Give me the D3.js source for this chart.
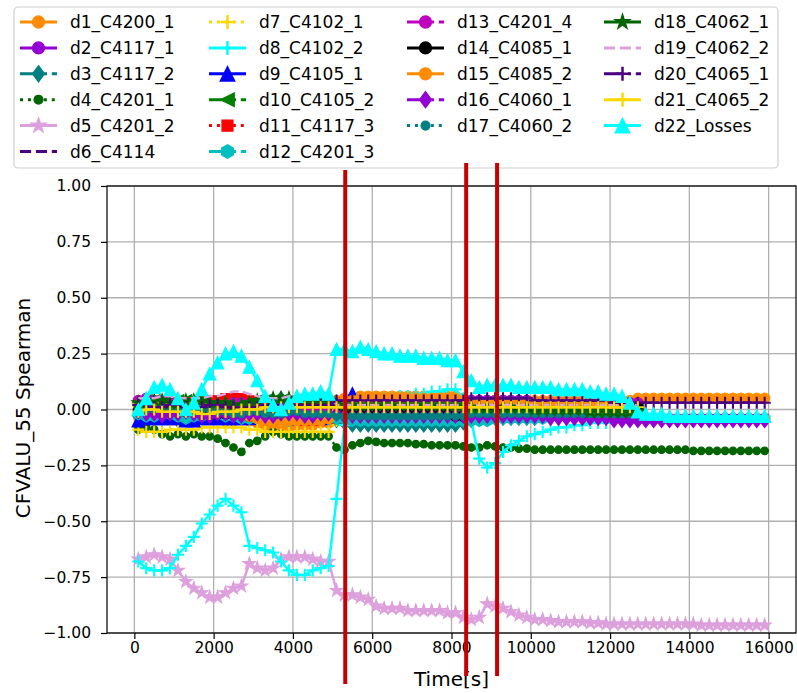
<!DOCTYPE html>
<html>
<head>
<meta charset="utf-8">
<script src="https://cdn.jsdelivr.net/npm/d3@7"></script>
<style>
  body { margin: 0; background: #fff; }
  text { font-family: "DejaVu Sans", sans-serif; fill: #000; }
</style>
</head>
<body>
<div id="chart"></div>
<script>
// sample times (s)
var times = [100,300,500,700,900,1100,1300,1500,1700,1900,2100,2300,2500,2700,2900,3100,3300,3500,3700,3900,
  4100,4300,4500,4700,4900,5100,5300,5500,5700,5900,6100,6300,6500,6700,6900,7100,7300,7500,7700,7900,
  8100,8300,8500,8700,8900,9100,9300,9500,9700,9900,10100,10300,10500,10700,10900,11100,11300,11500,11700,11900,
  12100,12300,12500,12700,12900,13100,13300,13500,13700,13900,14100,14300,14500,14700,14900,15100,15300,15500,15700,15900];

var xTicks = [0, 2000, 4000, 6000, 8000, 10000, 12000, 14000, 16000];
var yTicks = [-1, -0.75, -0.5, -0.25, 0, 0.25, 0.5, 0.75, 1];

// annotation lines (time positions)
var markTimes = [5320, 8370, 9150];

var d1_C4200_1 = [-0.03,-0.02,-0.02,-0.03,-0.03,-0.04,-0.04,-0.03,-0.03,-0.04,
  -0.04,-0.05,-0.05,-0.04,-0.05,-0.06,-0.07,-0.08,-0.08,-0.08,
  -0.07,-0.07,-0.07,-0.06,-0.06,0.04,0.05,0.05,0.06,0.06,
  0.06,0.06,0.06,0.06,0.06,0.06,0.06,0.06,0.06,0.06,
  0.06,0.05,0.04,0.04,0.04,0.04,0.04,0.04,0.04,0.04,
  0.04,0.04,0.04,0.04,0.04,0.04,0.04,0.04,0.04,0.04,
  0.04,0.04,0.04,0.05,0.05,0.05,0.05,0.05,0.05,0.05,
  0.05,0.05,0.05,0.05,0.05,0.05,0.05,0.05,0.05,0.05];
var d2_C4117_1 = [0.02,0.03,0.03,0.02,0.02,0.02,0.03,0.02,0.01,0.01,
  0.02,0.01,0.00,0.00,-0.01,-0.01,0.00,0.01,0.01,0.00,
  0.00,0.01,0.01,0.00,0.00,-0.03,-0.03,-0.04,-0.04,-0.04,
  -0.04,-0.04,-0.04,-0.04,-0.04,-0.04,-0.04,-0.04,-0.04,-0.03,
  -0.03,-0.03,0.04,0.04,0.04,0.04,0.04,0.04,0.04,0.04,
  0.03,0.03,0.03,0.03,0.03,0.03,0.03,0.02,0.02,0.02,
  0.01,0.00,-0.02,-0.04,-0.04,-0.04,-0.04,-0.04,-0.04,-0.04,
  -0.04,-0.04,-0.04,-0.04,-0.04,-0.04,-0.04,-0.04,-0.04,-0.04];
var d3_C4117_2 = [-0.03,-0.02,-0.03,-0.04,-0.04,-0.05,-0.05,-0.04,-0.04,-0.03,
  -0.03,-0.02,-0.01,0.00,0.02,0.03,0.04,0.04,0.05,0.04,
  0.04,0.04,0.04,0.04,0.03,-0.05,-0.06,-0.07,-0.07,-0.07,
  -0.07,-0.07,-0.07,-0.07,-0.07,-0.07,-0.07,-0.07,-0.07,-0.07,
  -0.07,-0.06,-0.05,-0.04,-0.04,-0.04,-0.04,-0.04,-0.04,-0.04,
  -0.04,-0.03,-0.03,-0.03,-0.03,-0.03,-0.03,-0.03,-0.02,-0.02,
  -0.02,-0.02,-0.02,-0.02];
var d4_C4201_1 = [-0.09,-0.08,-0.09,-0.11,-0.12,-0.11,-0.12,-0.11,-0.12,-0.12,
  -0.13,-0.15,-0.17,-0.19,-0.15,-0.14,-0.12,-0.10,-0.11,-0.12,
  -0.12,-0.12,-0.12,-0.12,-0.12,-0.17,-0.18,-0.16,-0.15,-0.14,
  -0.145,-0.15,-0.15,-0.15,-0.15,-0.155,-0.155,-0.16,-0.16,-0.16,
  -0.16,-0.165,-0.17,-0.17,-0.16,-0.165,-0.17,-0.17,-0.175,-0.175,
  -0.18,-0.18,-0.18,-0.18,-0.18,-0.18,-0.18,-0.18,-0.18,-0.18,
  -0.18,-0.18,-0.18,-0.18,-0.18,-0.18,-0.18,-0.18,-0.18,-0.18,
  -0.185,-0.185,-0.185,-0.185,-0.185,-0.185,-0.185,-0.185,-0.185,-0.185];
var d5_C4201_2 = [-0.67,-0.66,-0.65,-0.66,-0.67,-0.72,-0.77,-0.80,-0.82,-0.84,
  -0.84,-0.82,-0.80,-0.79,-0.69,-0.71,-0.72,-0.71,-0.67,-0.66,
  -0.66,-0.66,-0.67,-0.68,-0.68,-0.81,-0.83,-0.83,-0.84,-0.85,
  -0.88,-0.89,-0.89,-0.89,-0.90,-0.90,-0.90,-0.90,-0.90,-0.91,
  -0.91,-0.93,-0.94,-0.93,-0.87,-0.88,-0.89,-0.905,-0.92,-0.93,
  -0.94,-0.94,-0.945,-0.95,-0.95,-0.95,-0.95,-0.955,-0.955,-0.96,
  -0.96,-0.96,-0.96,-0.96,-0.96,-0.96,-0.96,-0.96,-0.96,-0.96,
  -0.96,-0.965,-0.965,-0.965,-0.965,-0.965,-0.965,-0.965,-0.965,-0.965];
var d6_C4114 = [0.01,0.02,0.02,0.01,0.01,0.01,0.02,0.02,0.01,0.01,
  0.01,0.00,0.00,0.01,0.01,0.01,0.00,0.00,0.00,0.00,
  0.01,0.01,0.01,0.01,0.01,0.04,0.04,0.04,0.04,0.04,
  0.04,0.04,0.04,0.04,0.04,0.04,0.04,0.04,0.04,0.04,
  0.04,0.04,0.04,0.04,0.04,0.04,0.04,0.04,0.04,0.04,
  0.04,0.04,0.03,0.03,0.03,0.03,0.03,0.03,0.03,0.03,
  0.03,0.03,0.03,0.03,0.03,0.03,0.03,0.03,0.03,0.03,
  0.03,0.03,0.03,0.03,0.03,0.03,0.03,0.03,0.03,0.03];
var d7_C4102_1 = [-0.09,-0.10,-0.10,-0.10,-0.09,-0.09,-0.09,-0.09,-0.08,-0.08,
  -0.08,-0.08,-0.08,-0.08,-0.09,-0.09,-0.10,-0.10,-0.10,-0.10,
  -0.10,-0.10,-0.10,-0.10,-0.10,-0.05,0.00,0.00,0.00,0.00,
  0.00,0.00,0.00,0.00,0.00,0.00,0.00,0.00,0.00,0.00,
  0.00,0.00,0.00,0.00,0.00,0.00,0.00,0.00,0.00,0.00,
  0.00,0.00,0.00,0.00,0.00,0.00,0.00,0.00,0.00,0.00,
  0.00,0.00,0.00,0.00];
var d8_C4102_2 = [-0.68,-0.71,-0.72,-0.72,-0.71,-0.65,-0.61,-0.57,-0.51,-0.47,
  -0.43,-0.40,-0.43,-0.46,-0.61,-0.62,-0.63,-0.64,-0.68,-0.72,
  -0.74,-0.74,-0.72,-0.71,-0.70,-0.40,-0.07,0.00,0.02,0.03,
  0.04,0.05,0.05,0.06,0.06,0.07,0.07,0.08,0.08,0.09,
  0.09,0.05,-0.05,-0.22,-0.26,-0.24,-0.19,-0.16,-0.14,-0.12,
  -0.11,-0.10,-0.09,-0.08,-0.08,-0.07,-0.07,-0.06,-0.06,-0.06,
  -0.05,-0.05,-0.05,-0.04,-0.04,-0.04,-0.04,-0.04,-0.03,-0.03,
  -0.03,-0.03,-0.03,-0.03,-0.03,-0.03,-0.03,-0.03,-0.03,-0.03];
var d9_C4105_1 = [-0.05,-0.04,-0.04,-0.04,-0.04,-0.04,-0.05,-0.05,-0.04,-0.04,
  -0.04,-0.04,-0.04,-0.04,-0.04,-0.03,-0.03,-0.04,-0.04,-0.04,
  -0.04,-0.04,-0.04,-0.04,-0.03,0.02,0.03,0.07,0.03,0.03,
  0.03,0.03,0.03,0.03,0.03,0.03,0.03,0.03,0.03,0.03,
  0.03,0.03,0.02,0.02,0.02,0.02,0.02,0.02,0.02,0.02,
  0.02,0.02,0.02,0.02,0.02,0.02,0.02,0.02,0.02,0.02,
  0.02,0.02,0.02,0.02];
var d10_C4105_2 = [0.03,0.04,0.04,0.03,0.03,0.04,0.04,0.04,0.03,0.03,
  0.03,0.02,0.02,0.03,0.03,0.04,0.04,0.04,0.04,0.03,
  0.03,0.03,0.03,0.03,0.03,0.02,0.01,0.01,0.00,0.00,
  0.00,0.00,0.00,0.00,0.00,0.00,0.00,0.00,0.00,-0.01,
  -0.01,-0.01,0.00,0.00,0.00,0.00,0.00,0.00,0.00,0.00,
  0.00,0.00,0.00,0.00,0.00,0.00,0.00,0.00,0.00,0.00,
  0.00,0.00,0.00,0.00];
var d11_C4117_3 = [0.01,0.01,0.02,0.02,0.02,0.03,0.03,0.03,0.04,0.04,
  0.04,0.05,0.05,0.05,0.04,0.02,0.00,-0.02,-0.04,-0.04,
  -0.04,-0.05,-0.05,-0.04,-0.04,0.03,0.03,0.03,0.03,0.03,
  0.03,0.03,0.03,0.03,0.03,0.03,0.03,0.03,0.03,0.03,
  0.03,0.03,0.02,0.02,0.02,0.02,0.02,0.02,0.02,0.02,
  0.02,0.02,0.02,0.02,0.02,0.02,0.02,0.02,0.02,0.02,
  0.02,0.02,0.02,0.02];
var d12_C4201_3 = [-0.02,-0.03,-0.03,-0.02,-0.02,-0.03,-0.04,-0.03,-0.03,-0.02,
  -0.02,-0.03,-0.03,-0.04,-0.04,-0.03,-0.03,-0.04,-0.05,-0.05,
  -0.04,-0.04,-0.04,-0.04,-0.04,-0.04,-0.04,-0.05,-0.05,-0.05,
  -0.05,-0.05,-0.05,-0.05,-0.05,-0.05,-0.05,-0.05,-0.05,-0.05,
  -0.05,-0.05,-0.05,-0.05,-0.05,-0.04,-0.04,-0.04,-0.04,-0.04,
  -0.04,-0.04,-0.03,-0.03,-0.03,-0.03,-0.03,-0.03,-0.03,-0.03,
  -0.03,-0.03,-0.03,-0.03];
var d13_C4201_4 = [0.04,0.05,0.04,0.04,0.03,0.03,0.03,0.03,0.02,0.02,
  0.02,0.02,0.03,0.03,0.02,0.02,0.02,0.02,0.02,0.02,
  0.01,0.01,0.01,0.01,0.01,0.02,0.02,0.02,0.02,0.02,
  0.02,0.02,0.02,0.02,0.02,0.02,0.02,0.02,0.02,0.02,
  0.02,0.02,0.03,0.03,0.03,0.03,0.03,0.03,0.03,0.03,
  0.03,0.03,0.03,0.03,0.03,0.03,0.03,0.03,0.03,0.03,
  0.03,0.03,0.03,0.03];
var d14_C4085_1 = [0.00,-0.01,-0.01,0.00,0.00,-0.01,-0.01,-0.01,-0.02,-0.02,
  -0.02,-0.02,-0.02,-0.02,-0.03,-0.03,-0.03,-0.03,-0.03,-0.03,
  -0.03,-0.03,-0.03,-0.03,-0.03,-0.01,-0.01,-0.01,-0.01,-0.01,
  -0.01,-0.01,-0.01,-0.01,-0.01,-0.01,-0.01,-0.01,-0.02,-0.02,
  -0.03,-0.03,0.01,0.01,0.01,0.01,0.01,0.01,0.01,0.01,
  0.01,0.01,0.01,0.01,0.01,0.01,0.01,0.01,0.01,0.01,
  0.01,0.01,0.01,0.01];
var d15_C4085_2 = [0.02,0.03,0.03,0.02,0.02,0.01,0.01,0.02,0.02,0.01,
  0.00,-0.01,-0.02,-0.02,-0.03,-0.04,-0.05,-0.06,-0.06,-0.05,
  -0.05,-0.05,-0.05,-0.05,-0.04,0.03,0.04,0.04,0.05,0.05,
  0.05,0.05,0.05,0.05,0.05,0.05,0.05,0.05,0.05,0.05,
  0.05,0.04,0.03,0.03,0.03,0.03,0.03,0.03,0.03,0.03,
  0.03,0.03,0.03,0.03,0.03,0.03,0.03,0.03,0.03,0.03,
  0.01,-0.01,-0.03,-0.045,-0.045,-0.045,-0.045,-0.045,-0.045,-0.045,
  -0.045,-0.045,-0.045,-0.045,-0.045,-0.045,-0.045,-0.045,-0.045,-0.045];
var d16_C4060_1 = [-0.01,-0.02,-0.02,-0.03,-0.02,-0.02,-0.01,-0.02,-0.03,-0.03,
  -0.02,-0.02,-0.03,-0.03,-0.02,-0.02,-0.03,-0.03,-0.02,-0.02,
  -0.02,-0.03,-0.03,-0.02,-0.02,-0.02,-0.03,-0.03,-0.03,-0.03,
  -0.03,-0.03,-0.03,-0.03,-0.03,-0.03,-0.03,-0.03,-0.03,-0.03,
  -0.03,-0.03,-0.03,-0.03,-0.03,-0.03,-0.03,-0.03,-0.03,-0.03,
  -0.03,-0.03,-0.04,-0.04,-0.04,-0.04,-0.04,-0.04,-0.04,-0.04,
  -0.05,-0.05,-0.05,-0.05,-0.05,-0.05,-0.05,-0.05,-0.05,-0.05,
  -0.05,-0.05,-0.05,-0.05,-0.05,-0.05,-0.05,-0.05,-0.05,-0.05];
var d17_C4060_2 = [0.01,0.00,0.00,0.01,0.01,0.00,-0.01,-0.01,0.00,0.00,
  -0.01,-0.01,-0.02,-0.02,-0.01,-0.01,-0.02,-0.02,-0.02,-0.01,
  -0.01,-0.02,-0.02,-0.02,-0.02,-0.03,-0.03,-0.03,-0.03,-0.03,
  -0.03,-0.03,-0.03,-0.03,-0.03,-0.03,-0.03,-0.03,-0.03,-0.03,
  -0.03,-0.03,-0.02,-0.02,-0.02,-0.02,-0.02,-0.02,-0.02,-0.02,
  -0.02,-0.02,-0.02,-0.02,-0.02,-0.02,-0.02,-0.02,-0.02,-0.02,
  -0.02,-0.02,-0.02,-0.02];
var d18_C4062_1 = [0.03,0.03,0.04,0.04,0.03,0.03,0.04,0.04,0.04,0.03,
  0.03,0.03,0.02,0.02,0.03,0.04,0.05,0.05,0.05,0.05,
  0.05,0.04,0.04,0.04,0.04,0.03,0.02,0.02,0.02,0.02,
  0.02,0.02,0.02,0.02,0.02,0.02,0.02,0.02,0.02,0.02,
  0.02,0.02,0.01,0.01,0.01,0.01,0.01,0.01,0.01,0.01,
  0.00,0.00,0.00,0.00,0.00,0.00,0.00,-0.01,-0.01,-0.01,
  -0.01,-0.01,-0.01,-0.01];
var d19_C4062_2 = [0.05,0.05,0.05,0.06,0.06,0.05,0.05,0.05,0.05,0.06,
  0.06,0.07,0.08,0.08,0.07,0.06,0.05,0.05,0.05,0.06,
  0.06,0.06,0.06,0.06,0.06,0.02,0.02,0.02,0.02,0.02,
  0.02,0.02,0.02,0.02,0.02,0.02,0.02,0.02,0.02,0.02,
  0.02,0.02,0.02,0.02,0.02,0.02,0.02,0.02,0.02,0.02,
  0.02,0.02,0.02,0.02,0.02,0.02,0.02,0.02,0.02,0.02,
  0.02,0.02,0.02,0.02];
var d20_C4065_1 = [0.02,0.02,0.01,0.01,0.02,0.02,0.01,0.01,0.01,0.02,
  0.02,0.01,0.01,0.00,0.01,0.01,0.02,0.02,0.01,0.01,
  0.02,0.02,0.02,0.02,0.02,0.04,0.04,0.04,0.04,0.04,
  0.04,0.04,0.04,0.04,0.04,0.04,0.04,0.04,0.04,0.04,
  0.04,0.04,0.05,0.05,0.05,0.05,0.05,0.05,0.05,0.05,
  0.04,0.04,0.04,0.04,0.04,0.04,0.04,0.04,0.04,0.04,
  0.03,0.03,0.03,0.03,0.03,0.03,0.03,0.03,0.03,0.03,
  0.03,0.03,0.03,0.03,0.03,0.03,0.03,0.03,0.03,0.03];
var d21_C4065_2 = [-0.01,0.00,0.00,-0.01,-0.01,-0.01,-0.01,-0.01,-0.02,-0.02,
  -0.01,-0.01,-0.01,0.00,0.00,0.00,0.01,0.01,0.01,0.01,
  0.01,0.01,0.01,0.01,0.01,0.01,0.01,0.01,0.01,0.01,
  0.01,0.01,0.01,0.01,0.01,0.01,0.01,0.01,0.01,0.01,
  0.01,0.01,0.01,0.01,0.01,0.01,0.01,0.01,0.01,0.01,
  0.01,0.01,0.01,0.01,0.01,0.01,0.01,0.01,0.01,0.01,
  0.01,0.01,0.01,0.01];
var d22_Losses = [0.00,0.05,0.10,0.11,0.09,0.05,0.00,0.03,0.09,0.16,
  0.21,0.25,0.26,0.24,0.19,0.13,0.06,0.02,0.00,0.03,
  0.06,0.07,0.07,0.08,0.07,0.27,0.27,0.26,0.28,0.27,
  0.26,0.25,0.25,0.24,0.24,0.24,0.23,0.23,0.23,0.22,
  0.22,0.17,0.13,0.10,0.11,0.11,0.11,0.11,0.10,0.10,
  0.10,0.10,0.10,0.09,0.09,0.09,0.09,0.08,0.08,0.07,
  0.07,0.06,0.03,-0.01,-0.02,-0.02,-0.02,-0.03,-0.03,-0.03,
  -0.03,-0.03,-0.03,-0.03,-0.03,-0.03,-0.03,-0.03,-0.03,-0.03];

// name, values, color, line style, marker
var series = [
  ["d1_C4200_1", d1_C4200_1, "#ff8c00", "-", "o"],
  ["d2_C4117_1", d2_C4117_1, "#9400d3", "-", "o"],
  ["d3_C4117_2", d3_C4117_2, "#008080", "-.", "D"],
  ["d4_C4201_1", d4_C4201_1, "#006400", ":", "."],
  ["d5_C4201_2", d5_C4201_2, "#dda0dd", "-", "*"],
  ["d6_C4114", d6_C4114, "#4b0082", "--", ""],
  ["d7_C4102_1", d7_C4102_1, "#ffd700", ":", "+"],
  ["d8_C4102_2", d8_C4102_2, "#00ffff", "-", "+"],
  ["d9_C4105_1", d9_C4105_1, "#0000ff", "-", "^"],
  ["d10_C4105_2", d10_C4105_2, "#008000", "-.", "<"],
  ["d11_C4117_3", d11_C4117_3, "#ff0000", ":", "s"],
  ["d12_C4201_3", d12_C4201_3, "#00bfbf", "-.", "h"],
  ["d13_C4201_4", d13_C4201_4, "#bf00bf", "-.", "o"],
  ["d14_C4085_1", d14_C4085_1, "#000000", "-", "o"],
  ["d15_C4085_2", d15_C4085_2, "#ff8c00", "-", "o"],
  ["d16_C4060_1", d16_C4060_1, "#9400d3", "-.", "D"],
  ["d17_C4060_2", d17_C4060_2, "#008080", ":", "."],
  ["d18_C4062_1", d18_C4062_1, "#006400", "-", "*"],
  ["d19_C4062_2", d19_C4062_2, "#dda0dd", "--", ""],
  ["d20_C4065_1", d20_C4065_1, "#4b0082", "-.", "+"],
  ["d21_C4065_2", d21_C4065_2, "#ffd700", "-", "+"],
  ["d22_Losses", d22_Losses, "#00ffff", "-", "^"]
];

var W = 797, H = 693;
var svg = d3.select("#chart").append("svg").attr("width", W).attr("height", H);

var x = d3.scaleLinear().domain([-690, 16690]).range([107, 796]);
var y = d3.scaleLinear().domain([-1, 1]).range([633, 186]);

var LW = 2.5;
function dashFor(ls, lw) {
  if (ls === ":") return [lw, 1.65 * lw].join(",");
  if (ls === "--") return [3.7 * lw, 1.6 * lw].join(",");
  if (ls === "-.") return [6.4 * lw, 1.6 * lw, lw, 1.6 * lw].join(",");
  return null;
}

function markerPath(m, k) {
  var r, i, pts = [];
  switch (m) {
    case "o":
    case ".":
      r = (m === "o" ? 4.6 : 3.4) * k;
      return "M" + r + ",0A" + r + "," + r + " 0 1,1 " + (-r) + ",0A" + r + "," + r + " 0 1,1 " + r + ",0Z";
    case "^":
      r = 5.6 * k;
      return "M0," + (-r) + "L" + r + "," + r + "L" + (-r) + "," + r + "Z";
    case "<":
      r = 5.2 * k;
      return "M" + (-r) + ",0L" + r + "," + (-r) + "L" + r + "," + r + "Z";
    case "s":
      r = 4.2 * k;
      return "M" + (-r) + "," + (-r) + "H" + r + "V" + r + "H" + (-r) + "Z";
    case "+":
      r = 5.4 * k;
      return "M" + (-r) + ",0H" + r + "M0," + (-r) + "V" + r;
    case "D":
      return "M0," + (-6.2 * k) + "L" + (4.6 * k) + ",0L0," + (6.2 * k) + "L" + (-4.6 * k) + ",0Z";
    case "*":
      r = 6 * k;
      for (i = 0; i < 10; i++) {
        var a = -Math.PI / 2 + i * Math.PI / 5, rr = i % 2 ? r * 0.382 : r;
        pts.push([rr * Math.cos(a), rr * Math.sin(a)]);
      }
      return "M" + pts.map(function(p) { return p[0].toFixed(2) + "," + p[1].toFixed(2); }).join("L") + "Z";
    case "h":
      r = 5.2 * k;
      for (i = 0; i < 6; i++) {
        var b = -Math.PI / 2 + i * Math.PI / 3;
        pts.push([r * Math.cos(b), r * Math.sin(b)]);
      }
      return "M" + pts.map(function(p) { return p[0].toFixed(2) + "," + p[1].toFixed(2); }).join("L") + "Z";
  }
  return null;
}

function drawMarker(g, m, color, k) {
  var p = markerPath(m, k);
  if (!p) return g;
  var el = g.append("path").attr("d", p);
  if (m === "+") {
    el.attr("fill", "none").attr("stroke", color).attr("stroke-width", 1.9 * k);
  } else {
    el.attr("fill", color).attr("stroke", color).attr("stroke-width", 1 * k);
  }
  return el;
}

// grid
var grid = svg.append("g");
xTicks.forEach(function(t) {
  grid.append("line").attr("x1", x(t)).attr("x2", x(t)).attr("y1", 186).attr("y2", 633)
    .attr("stroke", "#b0b0b0").attr("stroke-width", 1.3);
});
yTicks.forEach(function(t) {
  grid.append("line").attr("x1", 107).attr("x2", 796).attr("y1", y(t)).attr("y2", y(t))
    .attr("stroke", "#b0b0b0").attr("stroke-width", 1.3);
});

// series
svg.append("clipPath").attr("id", "plotclip").append("rect")
  .attr("x", 107).attr("y", 186).attr("width", 689).attr("height", 447);
var plot = svg.append("g").attr("clip-path", "url(#plotclip)");

var line = d3.line().x(function(d) { return x(d[0]); }).y(function(d) { return y(d[1]); });
var MK = 1.12;

series.forEach(function(s) {
  var pts = s[1].map(function(v, i) { return [times[i], v]; });
  var g = plot.append("g");
  g.append("path").attr("d", line(pts))
    .attr("fill", "none").attr("stroke", s[2]).attr("stroke-width", LW)
    .attr("stroke-linejoin", "round")
    .attr("stroke-dasharray", dashFor(s[3], LW));
  if (s[4]) {
    pts.forEach(function(p) {
      drawMarker(g, s[4], s[2], MK).attr("transform", "translate(" + x(p[0]) + "," + y(p[1]) + ")");
    });
  }
});

// axes
var xAxis = svg.append("g").attr("transform", "translate(0,633)")
  .call(d3.axisBottom(x).tickValues(xTicks).tickSize(6).tickPadding(3).tickFormat(d3.format("d")));
var yAxis = svg.append("g").attr("transform", "translate(107,0)")
  .call(d3.axisLeft(y).tickValues(yTicks).tickSize(6).tickPadding(10).tickFormat(d3.format(".2f")));
[xAxis, yAxis].forEach(function(a) {
  a.select(".domain").remove();
  a.selectAll(".tick line").attr("stroke", "#000").attr("stroke-width", 1.2);
  a.selectAll(".tick text").attr("font-size", 15.5).attr("font-family", "DejaVu Sans").attr("fill", "#000");
});

svg.append("rect").attr("x", 107).attr("y", 186).attr("width", 689).attr("height", 447)
  .attr("fill", "none").attr("stroke", "#000").attr("stroke-width", 1.2);

svg.append("text").attr("x", 451.5).attr("y", 686).attr("text-anchor", "middle")
  .attr("font-size", 20).text("Time[s]");
svg.append("text").attr("transform", "translate(30,408) rotate(-90)").attr("text-anchor", "middle")
  .attr("font-size", 20).text("CFVALU_55 Spearman");

// legend
var legend = svg.append("g");
legend.append("rect").attr("x", 14).attr("y", 7).attr("width", 764).attr("height", 161)
  .attr("rx", 4).attr("fill", "#fff").attr("fill-opacity", 0.8)
  .attr("stroke", "#d0d0d0").attr("stroke-width", 1.2);

var colStart = [20, 209, 407, 604];
var colCount = [6, 6, 5, 5];
var idx = 0;
colCount.forEach(function(n, c) {
  for (var r = 0; r < n; r++, idx++) {
    var s = series[idx];
    var cy = 22 + r * 25.9;
    var x0 = colStart[c], k = 1.3;
    var g = legend.append("g");
    g.append("line").attr("x1", x0).attr("x2", x0 + 37).attr("y1", cy).attr("y2", cy)
      .attr("stroke", s[2]).attr("stroke-width", 3)
      .attr("stroke-dasharray", dashFor(s[3], 3));
    if (s[4]) drawMarker(g, s[4], s[2], k).attr("transform", "translate(" + (x0 + 18.5) + "," + cy + ")");
    g.append("text").attr("x", x0 + 50).attr("y", cy).attr("dy", "0.36em")
      .attr("font-size", 17).text(s[0]);
  }
});

// red annotation lines
var markEnds = [[170, 684], [163, 676], [163, 676]];
markTimes.forEach(function(t, i) {
  svg.append("line").attr("x1", x(t)).attr("x2", x(t))
    .attr("y1", markEnds[i][0]).attr("y2", markEnds[i][1])
    .attr("stroke", "#c40000").attr("stroke-width", 4);
});
</script>
</body>
</html>
